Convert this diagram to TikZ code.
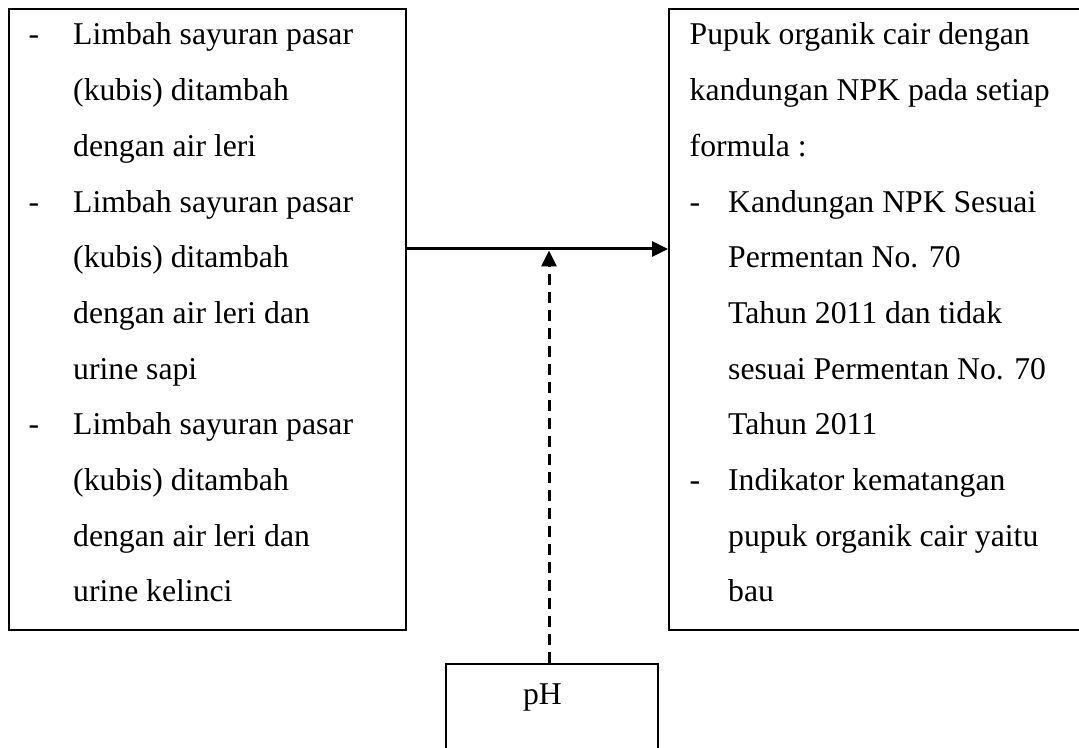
\documentclass[tikz,border=0pt]{standalone}
\usepackage{fontspec}
\setmainfont{Liberation Serif}
\usetikzlibrary{arrows.meta}
\newcommand{\dashitem}[1]{\makebox[#1][l]{-}}
\newcommand{\contline}[1]{\hspace*{#1}}
\begin{document}
\begin{tikzpicture}[x=1pt,y=1pt,
  frame/.style={draw, line width=2pt, inner sep=0pt, rectangle},
  txt/.style={inner sep=0pt, anchor=base west, font=\fontsize{31.7}{55.7}\selectfont},
  flow/.style={line width=3pt, -{Triangle[length=16pt,width=15pt]}},
  flowdash/.style={flow, dash pattern=on 11pt off 7pt}]
\useasboundingbox (0,0) rectangle (1079,747);
% boxes
\node[frame, minimum width=397pt, minimum height=621pt] (lb) at (207.5,427.5) {};
\node[frame, minimum width=413pt, minimum height=621pt] (rb) at (875.5,427.5) {};
\node[frame, minimum width=212pt, minimum height=136pt] (pb) at (552,15) {};
% texts
\node[txt] (lt) at (28.5,702) {\begin{tabular}[t]{@{}l@{}}
\dashitem{44.5pt}Limbah sayuran pasar\\
\contline{44.5pt}(kubis) ditambah\\
\contline{44.5pt}dengan air leri\\
\dashitem{44.5pt}Limbah sayuran pasar\\
\contline{44.5pt}(kubis) ditambah\\
\contline{44.5pt}dengan air leri dan\\
\contline{44.5pt}urine sapi\\
\dashitem{44.5pt}Limbah sayuran pasar\\
\contline{44.5pt}(kubis) ditambah\\
\contline{44.5pt}dengan air leri dan\\
\contline{44.5pt}urine kelinci
\end{tabular}};
\node[txt] (rt) at (689.5,702) {\begin{tabular}[t]{@{}l@{}}
Pupuk organik cair dengan\\
kandungan NPK pada setiap\\
formula :\\
\dashitem{38.5pt}Kandungan NPK Sesuai\\
\contline{38.5pt}Permentan No. 70\\
\contline{38.5pt}Tahun 2011 dan tidak\\
\contline{38.5pt}sesuai Permentan No. 70\\
\contline{38.5pt}Tahun 2011\\
\dashitem{38.5pt}Indikator kematangan\\
\contline{38.5pt}pupuk organik cair yaitu\\
\contline{38.5pt}bau
\end{tabular}};
\node[txt, anchor=base] (phl) at (542.5,42) {pH};
% connectors
\coordinate (j) at (549,498);
\draw[flow] (lb.east |- j) -- (rb.west |- j);
\draw[flowdash] (pb.north -| j) -- ([yshift=-1.5pt]j);
\end{tikzpicture}
\end{document}
